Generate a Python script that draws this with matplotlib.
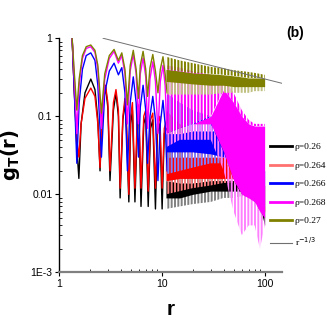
import matplotlib
matplotlib.use("Agg")
import matplotlib.pyplot as plt
from matplotlib.lines import Line2D

# resolved oscillations at small r
r_wide = [1.35, 1.42, 1.5, 1.58, 1.7, 1.85, 2.05, 2.25, 2.4, 2.6, 2.8, 3.1, 3.45, 3.8,
          4.1, 4.4, 4.65, 4.95, 5.3, 5.65, 5.95, 6.2, 6.6, 7.0, 7.3, 7.7, 8.2, 8.7,
          9.2, 9.7, 10.3, 10.8, 11.3]
g_olive = [1.0, 0.35, 0.12, 0.3, 0.6, 0.78, 0.82, 0.7, 0.45, 0.11, 0.35, 0.6, 0.72, 0.52,
           0.65, 0.4, 0.14, 0.45, 0.7, 0.4, 0.17, 0.45, 0.68, 0.4, 0.18, 0.42, 0.62, 0.38,
           0.2, 0.4, 0.58, 0.35, 0.2]
g_mag = [1.0, 0.3, 0.06, 0.25, 0.55, 0.74, 0.78, 0.66, 0.4, 0.07, 0.3, 0.55, 0.68, 0.48,
         0.6, 0.35, 0.08, 0.38, 0.62, 0.35, 0.08, 0.35, 0.56, 0.32, 0.07, 0.3, 0.5, 0.28,
         0.06, 0.28, 0.45, 0.25, 0.06]
g_blue = [1.0, 0.2, 0.025, 0.15, 0.4, 0.6, 0.65, 0.52, 0.25, 0.03, 0.2, 0.38, 0.48, 0.34,
          0.42, 0.2, 0.02, 0.15, 0.32, 0.15, 0.03, 0.13, 0.25, 0.12, 0.025, 0.1, 0.18, 0.09,
          0.015, 0.08, 0.16, 0.08, 0.02]

r_narrow = [1.35, 1.42, 1.5, 1.57, 1.65, 1.8, 2.05, 2.25, 2.4, 2.52, 2.65, 2.85, 3.0, 3.15,
            3.4, 3.6, 3.8, 3.95, 4.2, 4.4, 4.55, 4.8, 5.0, 5.2, 5.5, 5.8, 6.0, 6.3, 6.7,
            7.0, 7.4, 7.8, 8.2, 8.7, 9.1, 9.6, 10.1, 10.6, 11.2]
g_red = [1.0, 0.2, 0.05, 0.03, 0.08, 0.17, 0.23, 0.18, 0.08, 0.022, 0.12, 0.25, 0.15, 0.02,
         0.15, 0.22, 0.12, 0.012, 0.1, 0.17, 0.09, 0.01, 0.1, 0.15, 0.012, 0.1, 0.14, 0.012,
         0.1, 0.12, 0.011, 0.09, 0.11, 0.012, 0.08, 0.1, 0.012, 0.07, 0.09]
g_black = [1.0, 0.2, 0.04, 0.016, 0.08, 0.2, 0.3, 0.22, 0.09, 0.02, 0.12, 0.24, 0.13, 0.015,
           0.12, 0.2, 0.1, 0.009, 0.09, 0.15, 0.07, 0.008, 0.08, 0.12, 0.008, 0.08, 0.11,
           0.007, 0.08, 0.1, 0.007, 0.07, 0.09, 0.0065, 0.06, 0.08, 0.0065, 0.06, 0.07]

# dense region (r > 11): peak tips, solid band top/bottom, lowest spikes
band_r = [11, 15, 20, 30, 40, 50, 60, 70, 80, 90, 100]
olive_peak = [0.58, 0.52, 0.48, 0.43, 0.41, 0.39, 0.38, 0.37, 0.36, 0.35, 0.34]
olive_top = [0.4, 0.38, 0.36, 0.35, 0.34, 0.33, 0.32, 0.31, 0.31, 0.31, 0.31]
olive_low = [0.28, 0.27, 0.26, 0.25, 0.25, 0.24, 0.24, 0.24, 0.24, 0.24, 0.24]
olive_spk = [0.19, 0.19, 0.19, 0.19, 0.2, 0.2, 0.2, 0.2, 0.21, 0.21, 0.21]
mag_peak = [0.45, 0.42, 0.38, 0.34, 0.3, 0.2, 0.12, 0.09, 0.08, 0.08, 0.08]
mag_top = [0.06, 0.07, 0.08, 0.1, 0.22, 0.15, 0.1, 0.08, 0.075, 0.075, 0.075]
mag_low = [0.06, 0.07, 0.08, 0.08, 0.035, 0.015, 0.01, 0.009, 0.008, 0.006, 0.005]
mag_spk = [0.04, 0.05, 0.05, 0.05, 0.02, 0.006, 0.003, 0.004, 0.004, 0.002, 0.004]
blue_peak = [0.2, 0.15, 0.12, 0.1, 0.08, 0.07, 0.06, 0.05, 0.04, 0.035, 0.025]
blue_top = [0.06, 0.06, 0.065, 0.065, 0.065, 0.06, 0.05, 0.04, 0.035, 0.03, 0.02]
blue_low = [0.035, 0.035, 0.035, 0.033, 0.03, 0.028, 0.025, 0.02, 0.015, 0.01, 0.007]
blue_spk = [0.018, 0.02, 0.022, 0.025, 0.025, 0.022, 0.02, 0.015, 0.011, 0.008, 0.005]
red_peak = [0.12, 0.08, 0.06, 0.045, 0.04, 0.035, 0.03, 0.027, 0.024, 0.02, 0.015]
red_top = [0.03, 0.03, 0.03, 0.03, 0.03, 0.028, 0.026, 0.024, 0.022, 0.018, 0.013]
red_low = [0.015, 0.016, 0.016, 0.016, 0.016, 0.016, 0.015, 0.014, 0.012, 0.009, 0.006]
red_spk = [0.01, 0.011, 0.012, 0.013, 0.014, 0.014, 0.013, 0.012, 0.01, 0.008, 0.005]
black_peak = [0.07, 0.04, 0.025, 0.018, 0.016, 0.015, 0.015, 0.014, 0.013, 0.011, 0.007]
black_top = [0.015, 0.014, 0.014, 0.015, 0.015, 0.015, 0.014, 0.013, 0.012, 0.01, 0.007]
black_low = [0.009, 0.009, 0.01, 0.011, 0.011, 0.011, 0.011, 0.01, 0.009, 0.007, 0.004]
black_spk = [0.0065, 0.007, 0.0075, 0.008, 0.009, 0.009, 0.0095, 0.009, 0.008, 0.006, 0.004]

# r^-1/3 guide line end points
ref_r = [2.7, 147]
ref_g = [1.0, 0.265]

labels = ["ρ=0.26", "ρ=0.264", "ρ=0.266", "ρ=0.268", "ρ=0.27"]

series = [
    (r_narrow, g_black, black_peak, black_top, black_low, black_spk, "black", "#808080"),
    (r_narrow, g_red, red_peak, red_top, red_low, red_spk, "#ff0000", "#ff8080"),
    (r_wide, g_blue, blue_peak, blue_top, blue_low, blue_spk, "#0000ff", "#8080ff"),
    (r_wide, g_mag, mag_peak, mag_top, mag_low, mag_spk, "#ff00ff", "#ff80ff"),
    (r_wide, g_olive, olive_peak, olive_top, olive_low, olive_spk, "#808000", "#c0c080"),
]
legend_colors = ["black", "#ff7070", "#0000ff", "#ff00ff", "#808000"]

plt.rcParams["hatch.linewidth"] = 1.4

fig = plt.figure(figsize=(3.27, 3.27), dpi=100)
ax = fig.add_axes([0.1795, 0.167, 0.6825, 0.716])

for i, (rr, gg, peak, top, low, spk, c, lc) in enumerate(series):
    z = 2 + i
    ax.plot(rr, gg, color=c, lw=1.0, zorder=z)
    ax.fill_between(band_r, spk, low, facecolor="none", edgecolor=lc, hatch="|||||",
                    lw=0, zorder=z)
    ax.fill_between(band_r, low, top, color=c, lw=0, zorder=z)
    ax.fill_between(band_r, top, peak, facecolor="none", edgecolor=c, hatch="|||||",
                    lw=0, zorder=z)

ax.plot(ref_r, ref_g, color="#707070", lw=0.7, zorder=10)

ax.set_xscale("log")
ax.set_yscale("log")
ax.set_xlim(1, 147)
ax.set_ylim(1e-3, 1)

ax.set_xticks([1, 10, 100])
ax.set_xticklabels(["1", "10", "100"])
ax.set_yticks([1e-3, 1e-2, 1e-1, 1])
ax.set_yticklabels(["1E-3", "0.01", "0.1", "1"])

for s in ["top", "right"]:
    ax.spines[s].set_visible(False)
ax.spines["left"].set_linewidth(1.0)
ax.spines["bottom"].set_color("#808080")
ax.spines["bottom"].set_linewidth(1.6)

tick_family = ["Liberation Sans Narrow", "Liberation Sans", "DejaVu Sans"]
for lab in ax.get_xticklabels() + ax.get_yticklabels():
    lab.set_fontfamily(tick_family)
    lab.set_fontsize(7.5)
ax.tick_params(which="major", direction="out", length=3, width=0.8, pad=1.5)
ax.tick_params(which="minor", direction="in", length=2, width=0.6)
ax.tick_params(axis="x", which="minor", labelbottom=False)
ax.tick_params(axis="y", which="minor", labelleft=False)

ax.set_xlabel("r", fontsize=15, fontweight="bold", family="Liberation Sans", labelpad=8)
ax.set_ylabel(r"$\mathbf{g_T(r)}$", fontsize=14, labelpad=6)
fig.text(0.902, 0.9, "(b)", fontsize=10, fontweight="bold", ha="center", va="center",
         family="Liberation Sans")

handles = [Line2D([], [], color=c, lw=2) for c in legend_colors]
handles.append(Line2D([], [], color="#707070", lw=0.8))
leg_labels = labels + [r"r$^{-1/3}$"]
leg = ax.legend(handles, leg_labels, loc="upper left", bbox_to_anchor=(0.81, 0.578),
                bbox_transform=fig.transFigure, frameon=False, handlelength=2.4,
                handletextpad=0.25, labelspacing=1.05, borderpad=0,
                prop={"family": "Liberation Serif", "size": 6.8})
leg.set_zorder(20)

fig.savefig("out.png", dpi=100)
